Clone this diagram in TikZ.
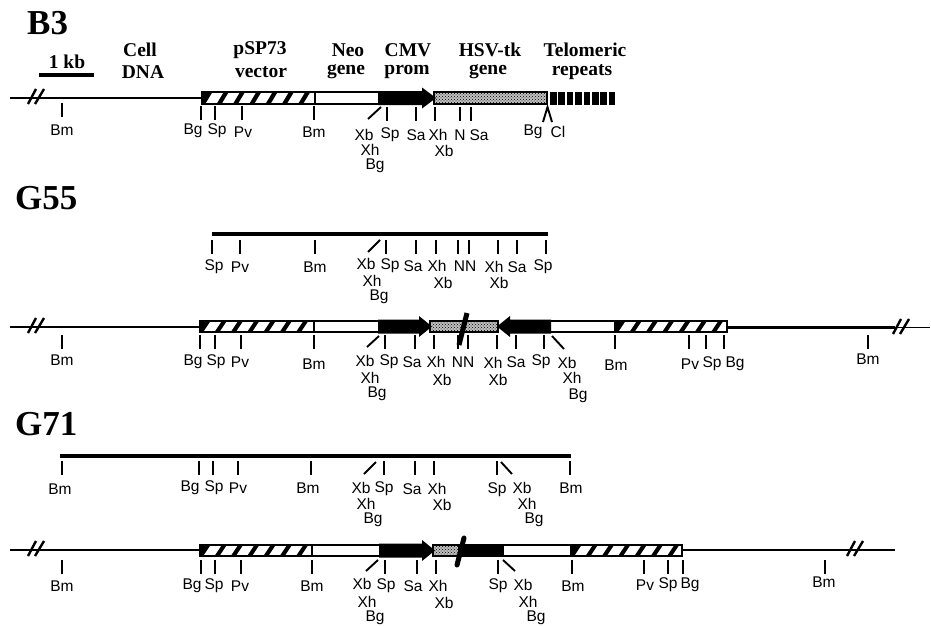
\documentclass[tikz,border=0pt]{standalone}
\usepackage{fontspec}
\setmainfont{Liberation Sans}
\newfontfamily\headfont{Liberation Serif}[BoldFont={Liberation Serif Bold}]
\usetikzlibrary{patterns}
\tikzset{
  x=1pt,y=-1pt,
  lab/.style={font=\fontsize{15.5}{15.5}\selectfont,inner sep=0pt,anchor=center},
  sub/.style={font=\headfont\bfseries\fontsize{19.5}{19.5}\selectfont,inner sep=0pt,anchor=center},
  big/.style={font=\headfont\bfseries\fontsize{35}{35}\selectfont,inner sep=0pt,anchor=west},
  dna/.style={line width=2.4pt,black},
  frag/.style={line width=4pt,black},
  tickm/.style={line width=1.9pt,black},
  brk/.style={line width=2.4pt,black},
  stip/.style={pattern=crosshatch dots,pattern color=black},
}
% hatched bar: x1 x2 ytop ybottom
\newcommand{\hatchbar}[4]{%
  \begin{scope}
    \clip (#1,#3) rectangle (#2,#4);
    \fill[black] (#1,#3) rectangle (#2,#4);
    \foreach \k in {0,...,6}{
      \fill[white] ({#1+4+16.3*\k},#4-1) -- ({#1+15+16.3*\k},#4-1) -- ({#1+21+16.3*\k},#3+1) -- ({#1+10+16.3*\k},#3+1) -- cycle;
    }
  \end{scope}
  \draw[line width=2.2pt] (#1,#3) rectangle (#2,#4);}
\newcommand{\whitebar}[4]{\draw[line width=2.2pt,fill=white] (#1,#3) rectangle (#2,#4);}
\newcommand{\stipbar}[4]{\fill[white] (#1,#3) rectangle (#2,#4);\fill[black!25] (#1,#3) rectangle (#2,#4);\fill[stip] (#1,#3) rectangle (#2,#4);\draw[line width=2.2pt] (#1,#3) rectangle (#2,#4);}
% right-pointing arrow: x1 headstart tip ycentre
\newcommand{\blackarrow}[4]{\fill[black] (#1,#4-7) -- (#2,#4-7) -- (#2,#4-10.5) -- (#3,#4) -- (#2,#4+10.5) -- (#2,#4+7) -- (#1,#4+7) -- cycle;}
\newcommand{\brkmark}[2]{\draw[brk] (#1-8,#2+7) -- (#1,#2-8); \draw[brk] (#1-1,#2+7) -- (#1+8,#2-8);}
\begin{document}
\begin{tikzpicture}
\useasboundingbox (0,0) rectangle (931,626);
% headings
\node[big] (hB) at (27,23) {B3};
\node[big] (hG55) at (15,198) {G55};
\node[big] (hG71) at (15,424) {G71};
\foreach \n/\x/\y/\t in {a/67/62/{1 kb},b/140/50/Cell,c/143/72/DNA,d/260/50/pSP73,e/261/72/vector,f/348/50/Neo,g/346/72/gene,h/408/50/CMV,i/407/72/prom,j/490/50/HSV-tk,k/488/72/gene,l/585/50/Telomeric,m/582/72/repeats}
  \node[sub] (t\n) at (\x,\y) {\t};
\draw[line width=3.5pt] (39,75) -- (94,75);

% ---- B3 ----
\draw[line width=1.2pt] (10,98) -- (30,98);
\draw[dna] (30,98) -- (202,98);
\brkmark{36}{97}
\hatchbar{202}{315}{92}{104}
\whitebar{315}{380}{92}{104}
\stipbar{434}{547}{92}{104}
\blackarrow{378}{422}{436}{98}
\foreach \x in {550,558.4,566.8,575.2,583.6,592,600.4,608.8}
  \fill[black] (\x,92) rectangle (\x+6.6,105);
\foreach \x/\a/\b in {62/103/117,201/106/120,215/106/120,242/106/120,314/106/120,387/107/121,416/107/121,435/107/121,460/107/121,471/107/121}
  \draw[tickm] (\x,\a) -- (\x,\b);
\draw[tickm] (368,119) -- (381,107);
\draw[tickm] (543,122) -- (547.5,107) -- (552,122);
\foreach \x/\y/\t in {62/130/Bm,193/131/Bg,217/131/Sp,243/132/Pv,314/132/Bm,364/135/Xb,390/135/Sp,416/135/Sa,438/135/Xh,460/135/N,479/135/Sa,444/151/Xb,370/150/Xh,375/166/Bg,533/132/Bg,558/132/Cl}
  \node[lab] (l\x-\y) at (\x,\y) {\t};

% ---- G55 upper ----
\draw[frag] (212,234) -- (548,234);
\foreach \x in {212,240,315,386,416,436,458,469,498,517,546}
  \draw[tickm] (\x,240) -- (\x,254);
\draw[tickm] (368,252) -- (380,240);
\foreach \x/\y/\t in {214/267/Sp,240/267/Pv,315/267/Bm,366/264/Xb,390/266/Sp,413/266/Sa,437/266/Xh,465/266/NN,494/267/Xh,517/267/Sa,543/267/Sp,443/283/Xb,499/283/Xb,372/281/Xh,379/297/Bg}
  \node[lab] (l\x-\y) at (\x,\y) {\t};

% ---- G55 lower ----
\draw[line width=1.2pt] (10,327) -- (28,327);
\draw[dna] (28,327) -- (200,327);
\draw[dna] (727,327.5) -- (895,327.5);
\draw[line width=1.2pt] (895,327.5) -- (930,327.5);
\brkmark{36}{326}
\brkmark{901}{327}
\hatchbar{200}{314}{321}{332}
\whitebar{314}{380}{321}{332}
\whitebar{549}{615}{321}{332}
\hatchbar{615}{727}{321}{332}
\stipbar{430}{498}{321}{332}
\blackarrow{378}{419}{432}{326.5}
\begin{scope}[xshift=929pt,xscale=-1]
  \blackarrow{378}{419}{432}{326.5}
\end{scope}
\draw[line width=5pt] (459,345) -- (467,313);
\foreach \x in {62,200,215,241,314,385,415,434,458,468,497,516,544,615,689,706,724,868}
  \draw[tickm] (\x,335) -- (\x,349);
\draw[tickm] (367,347) -- (379,336);
\draw[tickm] (552,336) -- (564,349);
\foreach \x/\y/\t in {62/360/Bm,193/362/Bg,216/362/Sp,240/362/Pv,314/364/Bm,365/361/Xb,389/362/Sp,412/362/Sa,436/362/Xh,463/362/NN,493/363/Xh,516/362/Sa,541/362/Sp,567/363/Xb,616/365/Bm,442/380/Xb,498/380/Xb,370/378/Xh,572/378/Xh,377/394/Bg,578/396/Bg,690/364/Pv,712/364/Sp,735/364/Bg,868/359/Bm}
  \node[lab] (l\x-\y) at (\x,\y) {\t};

% ---- G71 upper ----
\draw[frag] (60,456) -- (571,456);
\foreach \x in {62,199,213,238,311,384,415,434,497,570}
  \draw[tickm] (\x,461) -- (\x,475);
\draw[tickm] (364,474) -- (376,462);
\draw[tickm] (501,462) -- (512,474);
\foreach \x/\y/\t in {60/489/Bm,190/488/Bg,214/488/Sp,238/488/Pv,308/488/Bm,361/488/Xb,384/489/Sp,412/489/Sa,437/489/Xh,497/490/Sp,522/488/Xb,571/488/Bm,366/504/Xh,442/505/Xb,527/504/Xh,373/520/Bg,534/520/Bg}
  \node[lab] (l\x-\y) at (\x,\y) {\t};

% ---- G71 lower ----
\draw[line width=1.2pt] (10,550) -- (28,550);
\draw[dna] (28,550) -- (200,550);
\draw[dna] (682,550) -- (895,550);
\brkmark{36}{549}
\brkmark{855}{549}
\hatchbar{200}{312}{545}{556}
\whitebar{312}{381}{545}{556}
\whitebar{502}{571}{545}{556}
\hatchbar{571}{682}{545}{556}
\stipbar{433}{460}{545}{556}
\blackarrow{379}{422}{435}{550.5}
\fill[black] (458,544) rectangle (504,557);
\draw[line width=5pt,line cap=round] (457,565) -- (464,538);
\foreach \x in {62,201,215,241,312,385,417,436,498,572,644,668,683,825}
  \draw[tickm] (\x,560) -- (\x,574);
\draw[tickm] (366,571) -- (378,560);
\draw[tickm] (503,560) -- (515,571);
\foreach \x/\y/\t in {62/586/Bm,192/586/Bg,214/586/Sp,240/586/Pv,312/586/Bm,362/584/Xb,386/586/Sp,413/586/Sa,438/586/Xh,498/586/Sp,523/585/Xb,573/586/Bm,645/585/Pv,668/585/Sp,690/585/Bg,824/582/Bm,367/602/Xh,444/603/Xb,528/602/Xh,375/618/Bg,536/618/Bg}
  \node[lab] (l\x-\y) at (\x,\y) {\t};
\end{tikzpicture}
\end{document}
